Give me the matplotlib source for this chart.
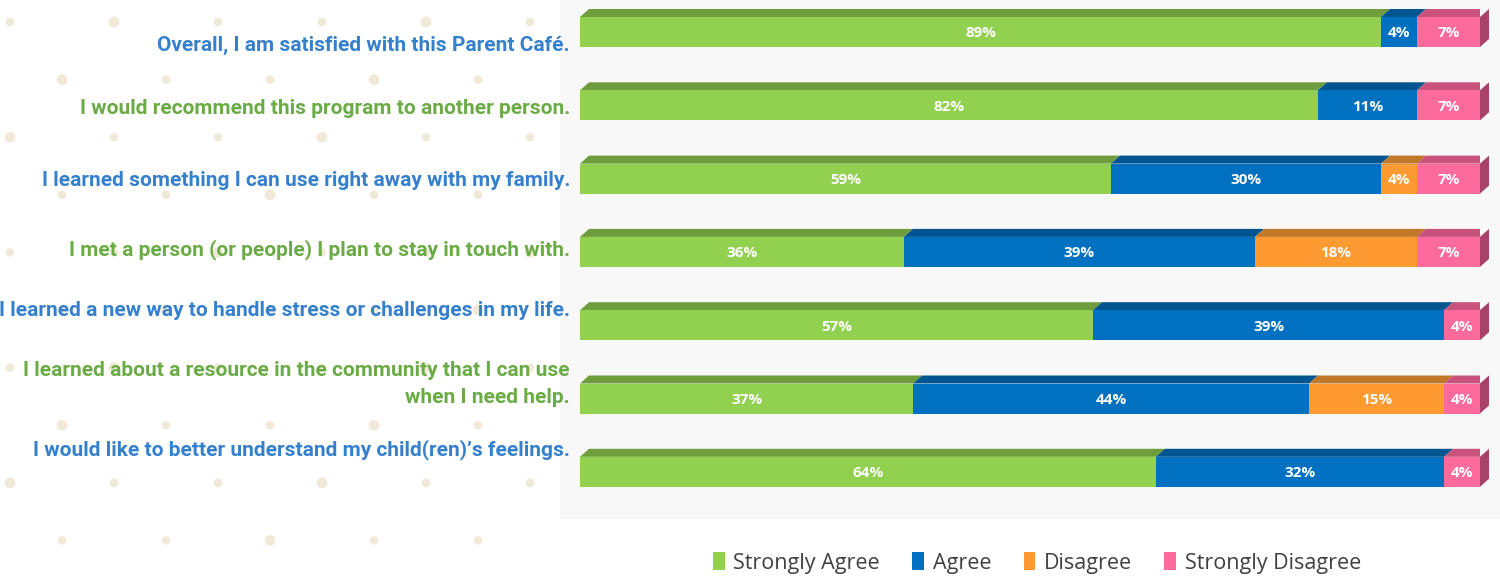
import numpy as np
import matplotlib
matplotlib.use('Agg')
import matplotlib.pyplot as plt
from matplotlib.patches import Polygon, Rectangle, Patch

questions = [
    'Overall, I am satisfied with this Parent Café.',
    'I would recommend this program to another person.',
    'I learned something I can use right away with my family.',
    'I met a person (or people) I plan to stay in touch with.',
    'I learned a new way to handle stress or challenges in my life.',
    'I learned about a resource in the community that I can use\nwhen I need help.',
    'I would like to better understand my child(ren)\u2019s feelings.',
]
categories = ['Strongly Agree', 'Agree', 'Disagree', 'Strongly Disagree']
strongly_agree = [89, 82, 59, 36, 57, 37, 64]
agree = [4, 11, 30, 39, 39, 44, 32]
disagree = [0, 0, 4, 18, 0, 15, 0]
strongly_disagree = [7, 7, 7, 7, 4, 4, 4]

front_colors = ['#92d050', '#0070c0', '#fd9a32', '#fd6b9c']
top_colors = ['#6f9c3c', '#00548f', '#c27829', '#c8527c']
side_color = '#a8426b'
label_colors = ['#3580cc', '#6aab45']

W, H = 1500, 578
fig = plt.figure(figsize=(W / 100, H / 100), dpi=100)
fig.patch.set_facecolor('white')

# polka dots on the left
dot_x, dot_y, dot_s = [], [], []
for r, y in enumerate(np.arange(22, 578, 57.6)):
    for x in np.arange(10 + 52 * (r % 2), 560, 104):
        dot_x.append(x / W)
        dot_y.append(1 - y / H)
        dot_s.append(60 if (r + int(x)) % 3 == 0 else 38)
dots = fig.add_axes([0, 0, 1, 1])
dots.set_xlim(0, 1)
dots.set_ylim(0, 1)
dots.axis('off')
dots.scatter(dot_x, dot_y, s=dot_s, color='#f1e9d8', linewidths=0, zorder=0)
dots.add_patch(Rectangle((560 / W, 1 - 519 / H), 940 / W, 519 / H,
                         color='#f8f8f8', lw=0, zorder=1))

# bar axes: 0..100 maps to 580..1480 px
ax = fig.add_axes([580 / W, 0, 900 / W, 1])
ax.axis('off')
ax.set_xlim(0, 100)
step = 73.3
ax.set_ylim((H - 32) / step, -32 / step)

h = 30 / step / 2
dx = 9 * 100 / 900
dy = 8 / step
ypos = np.arange(len(questions))

series = [strongly_agree, agree, disagree, strongly_disagree]
left = np.zeros(len(questions))
for vals, fc, tc in zip(series, front_colors, top_colors):
    vals = np.array(vals, dtype=float)
    ax.barh(ypos, vals, left=left, height=2 * h, color=fc, linewidth=0, zorder=3)
    for y, l, v in zip(ypos, left, vals):
        if v <= 0:
            continue
        r = l + v
        ax.add_patch(Polygon([(l, y - h), (r, y - h), (r + dx, y - h - dy), (l + dx, y - h - dy)],
                             closed=True, color=tc, lw=0, zorder=2))
        ax.text(l + v / 2, y + 0.02, '{:d}%'.format(int(v)), ha='center', va='center',
                color='white', fontsize=11, fontweight='bold', family='Open Sans', zorder=5)
    left = left + vals

# right side face of each bar
for y, total in zip(ypos, left):
    ax.add_patch(Polygon([(total, y - h), (total + dx, y - h - dy), (total + dx, y + h - dy), (total, y + h)],
                         closed=True, color=side_color, lw=0, zorder=2, clip_on=False))

# question labels
label_y = [45, 108, 180, 250, 310, 384, 450]
for i, (q, py) in enumerate(zip(questions, label_y)):
    fig.text(570 / W, 1 - py / H, q, ha='right', va='center', color=label_colors[i % 2],
             fontsize=15, fontweight='bold', linespacing=1.55, family='Roboto')

handles = [Patch(facecolor=c, edgecolor='none') for c in front_colors]
fig.legend(handles, categories, loc='center', bbox_to_anchor=(1037 / W, 1 - 563 / H),
           ncol=4, frameon=False, handlelength=0.55, handleheight=0.9,
           handletextpad=0.4, columnspacing=1.5, labelcolor='#404040',
           prop={'family': 'Open Sans', 'size': 15.5})

fig.savefig('out.png', dpi=100, facecolor=fig.get_facecolor())
